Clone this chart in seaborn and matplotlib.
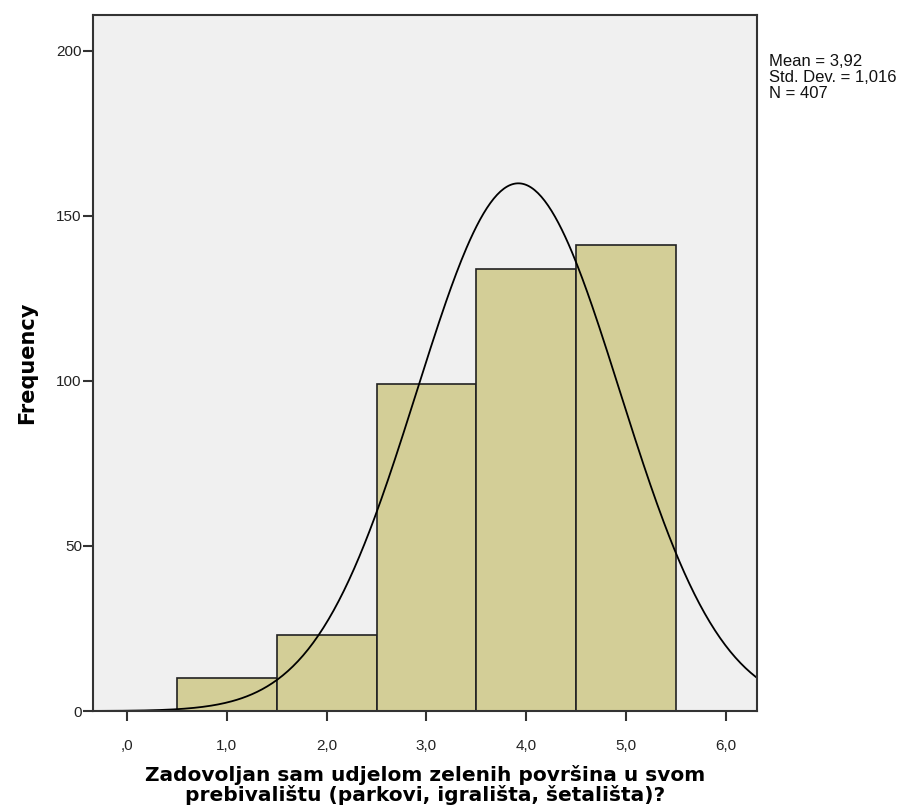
import numpy as np
import pandas as pd
import matplotlib
matplotlib.use("Agg")
import matplotlib.pyplot as plt
import seaborn as sns

# histogram data
values = [1, 2, 3, 4, 5]
counts = [10, 23, 99, 134, 141]
bin_edges = [0.5, 1.5, 2.5, 3.5, 4.5, 5.5]

mean = 3.92
std = 1.016
n = 407

x_ticks = [0, 1, 2, 3, 4, 5, 6]
x_tick_labels = [",0", "1,0", "2,0", "3,0", "4,0", "5,0", "6,0"]
y_ticks = [0, 50, 100, 150, 200]

sns.set_style("white")
plt.rcParams['font.family'] = ['Liberation Sans', 'DejaVu Sans']

fig = plt.figure(figsize=(9.07, 8.09), dpi=100)
ax = fig.add_axes([0.1025, 0.1211, 0.7321, 0.8604])
ax.set_facecolor("#F0F0F0")

df = pd.DataFrame({"value": values, "count": counts})
sns.histplot(data=df, x="value", weights="count", bins=bin_edges,
             color="#D3CE97", alpha=1, edgecolor="#222222", linewidth=1.2, ax=ax)

# normal curve scaled to frequencies (bin width 1)
xs = np.linspace(-0.4, 6.4, 400)
ys = n * 1.0 / (std * np.sqrt(2 * np.pi)) * np.exp(-0.5 * ((xs - mean) / std) ** 2)
sns.lineplot(x=xs, y=ys, color="black", linewidth=1.3, ax=ax)

ax.set_xlim(-0.34, 6.31)
ax.set_ylim(0, 210.8)
ax.set_xticks(x_ticks)
ax.set_xticklabels(x_tick_labels)
ax.set_yticks(y_ticks)
ax.tick_params(axis="both", bottom=True, left=True, direction="out", length=7, width=1.5,
               color="#333333", labelsize=11, labelcolor="#222222")
ax.tick_params(axis="x", pad=13)
ax.tick_params(axis="y", pad=1)

for side in ["left", "bottom", "right", "top"]:
    ax.spines[side].set_visible(True)
    ax.spines[side].set_color("#333333")
    ax.spines[side].set_linewidth(1.5)

ax.set_xlabel("Zadovoljan sam udjelom zelenih površina u svom\nprebivalištu (parkovi, igrališta, šetališta)?",
              fontsize=14.5, fontweight="bold", family="DejaVu Sans", linespacing=1.0, labelpad=9,
              color="black")
ax.set_ylabel("Frequency", fontsize=15, fontweight="bold", family="DejaVu Sans", labelpad=14,
              color="black")

fig.text(0.848, 0.9335, "Mean = 3,92\nStd. Dev. = 1,016\nN = 407",
         fontsize=12, va="top", ha="left", linespacing=1.08, color="#111111")

fig.savefig("out.png", dpi=100)
